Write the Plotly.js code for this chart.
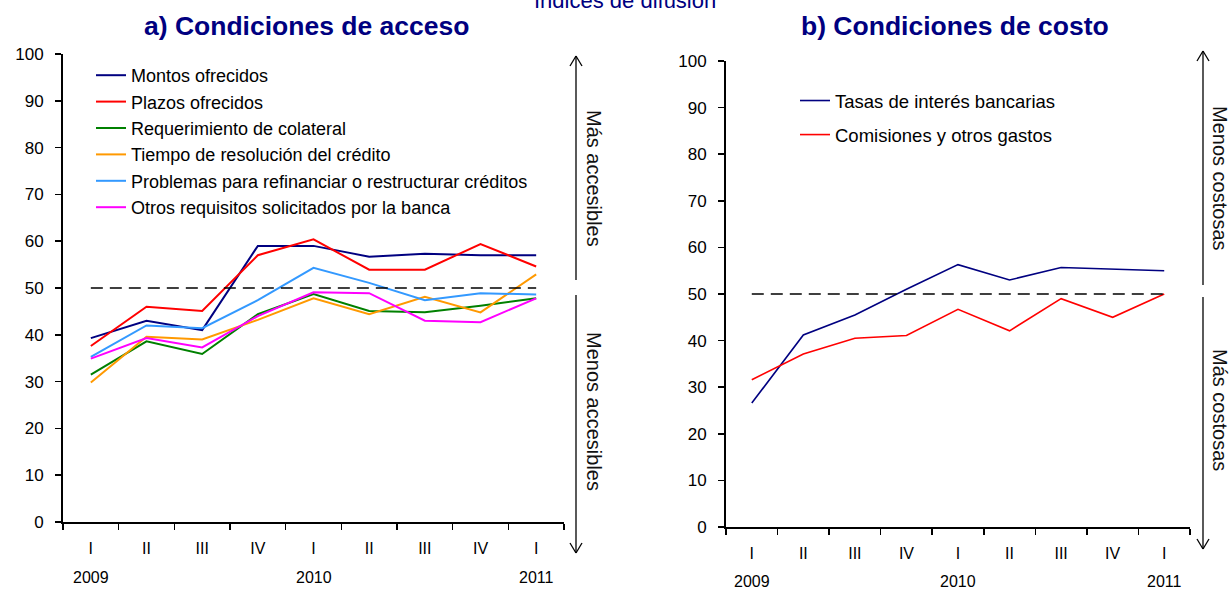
<!DOCTYPE html>
<html>
<head>
<meta charset="utf-8">
<script src="https://cdn.plot.ly/plotly-3.0.1.min.js"></script>
<style>html,body{margin:0;padding:0;background:#fff}#chart{width:1231px;height:590px}</style>
</head>
<body>
<div id="chart"></div>
<script>
// ---------- DATA ----------
const periods = ['2009-I','2009-II','2009-III','2009-IV','2010-I','2010-II','2010-III','2010-IV','2011-I'];
const quarterLabels = ['I','II','III','IV','I','II','III','IV','I'];
const yearLabels = ['2009','','','','2010','','','','2011'];

// a) Condiciones de acceso
const montosOfrecidos    = [39.3, 43.0, 41.0, 59.0, 59.0, 56.7, 57.3, 57.0, 57.0];
const plazosOfrecidos    = [37.6, 46.0, 45.1, 57.0, 60.4, 53.9, 53.9, 59.4, 54.6];
const reqColateral       = [31.5, 38.6, 35.9, 44.4, 48.7, 45.1, 44.8, 46.2, 47.8];
const tiempoResolucion   = [29.8, 39.6, 39.0, 43.2, 47.8, 44.4, 48.1, 44.8, 52.9];
const problemasRefinanc  = [35.3, 42.0, 41.4, 47.4, 54.3, 51.1, 47.4, 48.9, 48.6];
const otrosRequisitos    = [34.9, 39.3, 37.3, 44.0, 49.1, 48.9, 43.0, 42.7, 47.8];

// b) Condiciones de costo
const tasasInteres       = [26.6, 41.2, 45.5, 51.0, 56.3, 53.0, 55.7, 55.4, 55.0];
const comisionesGastos   = [31.6, 37.1, 40.5, 41.1, 46.7, 42.1, 49.0, 45.0, 50.0];

// neutral reference level
const neutral = [50, 50, 50, 50, 50, 50, 50, 50, 50];

// ---------- HELPERS ----------
const W = 1231, H = 590;
const px = x => x / W;
const py = y => 1 - y / H;
const FONT = 'Liberation Sans, Arial, sans-serif';

function line(name, y, color, xa, ya, legend, width, group) {
  return {
    type: 'scatter', mode: 'lines', name: name,
    x: periods, y: y, xaxis: xa, yaxis: ya,
    line: {color: color, width: width || 2},
    legend: legend, legendgroup: group,
    hoverinfo: 'skip'
  };
}
function dashed(xa, ya, legend) {
  return {type: 'scatter', mode: 'lines', x: periods, y: neutral, xaxis: xa, yaxis: ya,
    legend: legend, showlegend: false, hoverinfo: 'skip',
    line: {color: '#000', width: 1.5, dash: '12px,7px'}};
}

const traces = [
  line('Montos ofrecidos', montosOfrecidos, '#000080', 'x', 'y', 'legend'),
  line('Plazos ofrecidos', plazosOfrecidos, '#FF0000', 'x', 'y', 'legend'),
  line('Requerimiento de colateral', reqColateral, '#008000', 'x', 'y', 'legend'),
  line('Tiempo de resolución del crédito', tiempoResolucion, '#FF9900', 'x', 'y', 'legend'),
  line('Problemas para refinanciar o restructurar créditos', problemasRefinanc, '#3399FF', 'x', 'y', 'legend'),
  line('Otros requisitos solicitados por la banca', otrosRequisitos, '#FF00FF', 'x', 'y', 'legend'),
  dashed('x', 'y', 'legend'),
  line('Tasas de interés bancarias', tasasInteres, '#000080', 'x2', 'y2', 'legend2', 1.6, 'g1'),
  line('Comisiones y otros gastos', comisionesGastos, '#FF0000', 'x2', 'y2', 'legend2', 1.6, 'g2'),
  dashed('x2', 'y2', 'legend2')
];

function xAxis(domain, anchor) {
  return {
    domain: domain, anchor: anchor, type: 'category',
    categoryorder: 'array', categoryarray: periods,
    range: [-0.5, periods.length - 0.5],
    tickmode: 'array', tickvals: periods, ticktext: quarterLabels,
    tickson: 'boundaries', ticks: 'outside', ticklen: 6, tickwidth: 1.5, tickcolor: '#000',
    showline: true, linecolor: '#000', linewidth: 2,
    showgrid: false, zeroline: false,
    tickfont: {family: FONT, size: 16, color: '#000'},
    ticklabelstandoff: 11, fixedrange: true
  };
}
function yAxis(domain, anchor) {
  return {
    domain: domain, anchor: anchor,
    range: [0, 100], tickmode: 'linear', tick0: 0, dtick: 10,
    ticks: 'outside', ticklen: 6, tickwidth: 1.5, tickcolor: '#000',
    showline: true, linecolor: '#000', linewidth: 2,
    showgrid: false, zeroline: false,
    tickfont: {family: FONT, size: 17, color: '#000'},
    ticklabelstandoff: 8, fixedrange: true
  };
}

const annotations = [];
// titles
annotations.push({xref: 'paper', yref: 'paper', x: px(306), y: py(26), xanchor: 'center', yanchor: 'middle',
  text: '<b>a) Condiciones de acceso</b>', showarrow: false, font: {family: FONT, size: 26.5, color: '#000080'}});
annotations.push({xref: 'paper', yref: 'paper', x: px(955), y: py(26), xanchor: 'center', yanchor: 'middle',
  text: '<b>b) Condiciones de costo</b>', showarrow: false, font: {family: FONT, size: 26.5, color: '#000080'}});
annotations.push({xref: 'paper', yref: 'paper', x: px(625), y: 1, xanchor: 'center', yanchor: 'bottom', yshift: -15,
  text: 'Índices de difusión', showarrow: false, font: {family: FONT, size: 22, color: '#000080'}});
// year labels
yearLabels.forEach((yr, i) => {
  if (!yr) return;
  annotations.push({xref: 'x', yref: 'paper', x: periods[i], y: py(577), yanchor: 'middle', text: yr, showarrow: false,
    font: {family: FONT, size: 16, color: '#000'}});
  annotations.push({xref: 'x2', yref: 'paper', x: periods[i], y: py(581), yanchor: 'middle', text: yr, showarrow: false,
    font: {family: FONT, size: 16, color: '#000'}});
});
// side texts
const sideFont = {family: FONT, size: 20, color: '#111'};
function side(x, y, t) {
  annotations.push({xref: 'paper', yref: 'paper', x: px(x), y: py(y), xanchor: 'center', yanchor: 'middle',
    text: t, textangle: 90, showarrow: false, font: sideFont});
}
side(594, 178, 'Más accesibles');
side(594, 411, 'Menos accesibles');
side(1220, 178, 'Menos costosas');
side(1220, 410, 'Más costosas');

// arrows as shapes
const shapes = [];
function seg(x1, y1, x2, y2) {
  shapes.push({type: 'line', xref: 'paper', yref: 'paper', x0: px(x1), y0: py(y1), x1: px(x2), y1: py(y2),
    line: {color: '#000', width: 1.3}});
}
function arrow(x, top, midA, midB, bottom) {
  seg(x, top, x, midA); seg(x, midB, x, bottom);
  seg(x - 6, top + 10, x, top); seg(x + 6, top + 10, x, top);
  seg(x - 6, bottom - 10, x, bottom); seg(x + 6, bottom - 10, x, bottom);
}
arrow(576, 56, 280, 295, 553);
arrow(1203, 51, 285, 297, 549);

const layout = {
  width: W, height: H,
  margin: {l: 0, r: 0, t: 0, b: 0},
  paper_bgcolor: '#fff', plot_bgcolor: '#fff',
  font: {family: FONT, color: '#000'},
  showlegend: true,
  xaxis: xAxis([px(63), px(564)], 'y'),
  yaxis: yAxis([py(522), py(54)], 'x'),
  xaxis2: xAxis([px(726), px(1190)], 'y2'),
  yaxis2: yAxis([py(527), py(61)], 'x2'),
  legend: {x: px(91), y: py(57), xanchor: 'left', yanchor: 'top', bgcolor: 'rgba(0,0,0,0)',
    font: {family: FONT, size: 18, color: '#000'}, tracegroupgap: 0},
  legend2: {x: px(795), y: py(82), xanchor: 'left', yanchor: 'top', bgcolor: 'rgba(0,0,0,0)',
    font: {family: FONT, size: 18.5, color: '#000'}, tracegroupgap: 7},
  annotations: annotations,
  shapes: shapes
};

Plotly.newPlot('chart', traces, layout, {staticPlot: true, displayModeBar: false});
</script>
</body>
</html>
